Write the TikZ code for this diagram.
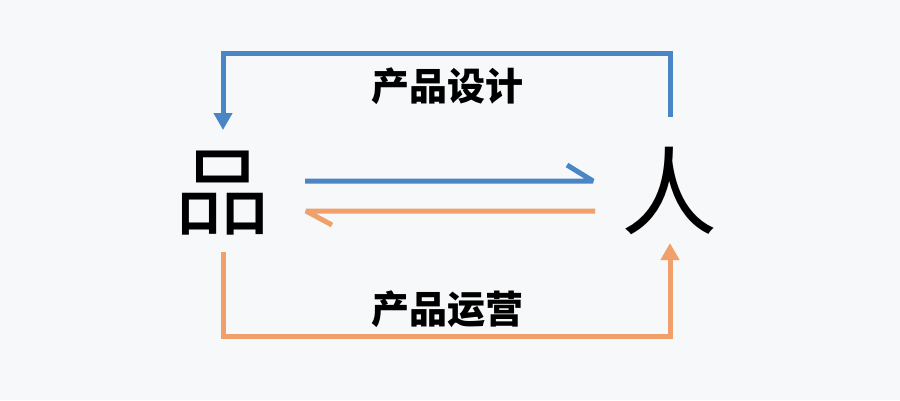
\documentclass[tikz,border=0pt]{standalone}
\usepackage{fontspec}
\newfontfamily\cjk{Noto Sans CJK SC}
\usetikzlibrary{arrows.meta}
\definecolor{bg}{HTML}{F7F8FA}
\definecolor{cblue}{HTML}{4A86C5}
\definecolor{corange}{HTML}{F0A06A}
\begin{document}
\begin{tikzpicture}[x=1pt,y=-1pt,
  big/.style={inner sep=0pt,font=\cjk\fontsize{96}{96}\selectfont},
  lbl/.style={inner sep=0pt,font=\cjk\bfseries\fontsize{38}{38}\selectfont},
  flow/.style={line width=5pt,line join=miter},
  vtip/.style={-{Triangle[width=18pt,length=17pt]}},
  barb/.style={line width=5pt,line join=bevel}]
\fill[bg] (0,0) rectangle (900,400);
\useasboundingbox (0,0) rectangle (900,400);
\node[big] (pin) at (222,193) {品};
\node[big] (ren) at (669,191) {人};
\node[lbl] (design) at (447,86) {产品设计};
\node[lbl] (ops) at (447,309) {产品运营};
\coordinate (rtop) at (670,117);
\coordinate (ptop) at (223,130);
\coordinate (pbot) at (223,252);
\coordinate (rbot) at (670,243);
\coordinate (b1) at (305,181);
\coordinate (b2) at (593,181);
\coordinate (o1) at (595,211);
\coordinate (o2) at (306,211);
\draw[flow,cblue,vtip] (rtop) -- ++(0,-64) -| (ptop);
\draw[flow,corange,vtip] (pbot) -- ++(0,84) -| (rbot);
\draw[barb,cblue] (b1) -- (b2) -- ++(-26,-16);
\draw[barb,corange] (o1) -- (o2) -- ++(26,14);
\end{tikzpicture}
\end{document}
